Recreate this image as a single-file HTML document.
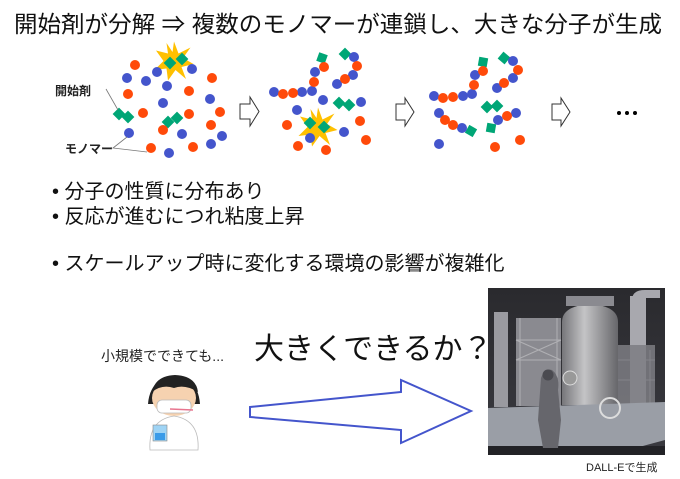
<!DOCTYPE html>
<html><head><meta charset="utf-8"><style>
html,body{margin:0;padding:0;background:#fff;width:680px;height:479px;overflow:hidden}
svg{display:block;font-family:"Liberation Sans","Noto Sans CJK JP",sans-serif}
</style></head><body>
<svg width="680" height="479" viewBox="0 0 680 479" xmlns="http://www.w3.org/2000/svg">
<defs>
<polygon id="star" points="0,-13 3,-5 11,-9 6,-2 13,2 5,4 8,12 1,6 -4,13 -5,5 -13,6 -7,0 -12,-7 -4,-5 -5,-12 -1,-6"/>
<rect id="gd" x="-4.5" y="-4.5" width="9" height="9" fill="#00a676"/>
</defs>
<text x="14" y="32" font-size="23" fill="#111" textLength="648" lengthAdjust="spacingAndGlyphs">開始剤が分解 ⇒ 複数のモノマーが連鎖し、大きな分子が生成</text>

<!-- Panel 1 -->
<use href="#star" transform="translate(174,61) scale(1.5)" fill="#ffc000"/>
<g>
<use href="#gd" transform="translate(170,63) rotate(45)"/><use href="#gd" transform="translate(182,59) rotate(45)"/>
<use href="#gd" transform="translate(119,114) rotate(45)"/><use href="#gd" transform="translate(128,117) rotate(45)"/>
<use href="#gd" transform="translate(168,122) rotate(45)"/><use href="#gd" transform="translate(177,118) rotate(45)"/>
</g>
<g fill="#4455cc">
<circle cx="127" cy="78" r="5"/><circle cx="146" cy="81" r="5"/><circle cx="157" cy="72" r="5"/><circle cx="192" cy="69" r="5"/>
<circle cx="167" cy="86" r="5"/><circle cx="210" cy="99" r="5"/><circle cx="163" cy="103" r="5"/><circle cx="129" cy="133" r="5"/>
<circle cx="182" cy="134" r="5"/><circle cx="222" cy="136" r="5"/><circle cx="211" cy="144" r="5"/><circle cx="169" cy="153" r="5"/>
</g>
<g fill="#ff4a0a">
<circle cx="135" cy="65" r="5"/><circle cx="212" cy="78" r="5"/><circle cx="128" cy="94" r="5"/><circle cx="189" cy="91" r="5"/>
<circle cx="143" cy="113" r="5"/><circle cx="189" cy="114" r="5"/><circle cx="220" cy="112" r="5"/><circle cx="211" cy="125" r="5"/>
<circle cx="163" cy="130" r="5"/><circle cx="193" cy="147" r="5"/><circle cx="151" cy="148" r="5"/>
</g>
<text x="55" y="95" font-size="12" font-weight="bold" fill="#222">開始剤</text>
<line x1="106" y1="89" x2="118" y2="110" stroke="#777" stroke-width="0.8"/>
<text x="65" y="153" font-size="12" font-weight="bold" fill="#222">モノマー</text>
<polyline points="127,137 113,148 147,152" fill="none" stroke="#777" stroke-width="0.8"/>

<g fill="#fff" stroke="#333" stroke-width="1">
<polygon points="240,104 250,104 250,97 259,111.5 250,126 250,119 240,119"/>
<polygon points="396,104 405,104 405,98 414,112 405,126 405,120 396,120"/>
<polygon points="552,104 561,104 561,98 570,112 561,126 561,120 552,120"/>
</g>

<!-- Panel 2 -->
<use href="#star" transform="translate(318,127) scale(1.5)" fill="#ffc000"/>
<g>
<use href="#gd" transform="translate(322,58) rotate(20)"/><use href="#gd" transform="translate(345,54) rotate(45)"/>
<use href="#gd" transform="translate(339,103) rotate(45)"/><use href="#gd" transform="translate(349,105) rotate(45)"/>
<use href="#gd" transform="translate(310,123) rotate(45)"/><use href="#gd" transform="translate(324,127) rotate(45)"/>
</g>
<g fill="#4455cc">
<circle cx="315" cy="72" r="5"/><circle cx="274" cy="92" r="5"/><circle cx="302" cy="92" r="5"/><circle cx="312" cy="91" r="5"/>
<circle cx="354" cy="57" r="5"/><circle cx="353" cy="75" r="5"/><circle cx="337" cy="84" r="5"/><circle cx="323" cy="100" r="5"/>
<circle cx="297" cy="110" r="5"/><circle cx="361" cy="102" r="5"/><circle cx="344" cy="132" r="5"/><circle cx="310" cy="138" r="5"/>
</g>
<g fill="#ff4a0a">
<circle cx="324" cy="67" r="5"/><circle cx="314" cy="82" r="5"/><circle cx="283" cy="94" r="5"/><circle cx="293" cy="93" r="5"/>
<circle cx="357" cy="66" r="5"/><circle cx="345" cy="79" r="5"/><circle cx="287" cy="125" r="5"/><circle cx="360" cy="121" r="5"/>
<circle cx="366" cy="140" r="5"/><circle cx="298" cy="146" r="5"/><circle cx="326" cy="150" r="5"/>
</g>

<!-- Panel 3 -->
<g>
<use href="#gd" transform="translate(483,62) rotate(10)"/><use href="#gd" transform="translate(504,58) rotate(40)"/>
<use href="#gd" transform="translate(487,107) rotate(45)"/><use href="#gd" transform="translate(497,106) rotate(45)"/>
<use href="#gd" transform="translate(471,131) rotate(30)"/><use href="#gd" transform="translate(491,128) rotate(10)"/>
</g>
<g fill="#4455cc">
<circle cx="475" cy="75" r="5"/><circle cx="434" cy="96" r="5"/><circle cx="463" cy="96" r="5"/><circle cx="472" cy="94" r="5"/>
<circle cx="513" cy="61" r="5"/><circle cx="513" cy="78" r="5"/><circle cx="497" cy="88" r="5"/><circle cx="439" cy="113" r="5"/>
<circle cx="462" cy="128" r="5"/><circle cx="498" cy="120" r="5"/><circle cx="516" cy="113" r="5"/><circle cx="439" cy="144" r="5"/>
</g>
<g fill="#ff4a0a">
<circle cx="483" cy="71" r="5"/><circle cx="474" cy="85" r="5"/><circle cx="443" cy="98" r="5"/><circle cx="453" cy="97" r="5"/>
<circle cx="518" cy="70" r="5"/><circle cx="504" cy="83" r="5"/><circle cx="445" cy="120" r="5"/><circle cx="453" cy="125" r="5"/>
<circle cx="507" cy="116" r="5"/><circle cx="495" cy="147" r="5"/><circle cx="520" cy="140" r="5"/>
</g>
<g fill="#000"><circle cx="619" cy="113" r="2"/><circle cx="627" cy="113" r="2"/><circle cx="635" cy="113" r="2"/></g>

<g font-size="20" fill="#111">
<text x="52" y="198">•  分子の性質に分布あり</text>
<text x="52" y="223">•  反応が進むにつれ粘度上昇</text>
<text x="52" y="270">•  スケールアップ時に変化する環境の影響が複雑化</text>
</g>

<text x="101" y="361" font-size="14" fill="#222">小規模でできても...</text>
<text x="254" y="359" font-size="30" fill="#111">大きくできるか？</text>

<polygon points="250,407 401,392 401,380 471,411 401,443 401,430 250,417" fill="#fff" stroke="#4455cc" stroke-width="2"/>

<!-- scientist -->
<g>
<path d="M148,404 Q150,378 175,376 Q198,378 200,404 Z" fill="#222"/>
<ellipse cx="174" cy="398" rx="22" ry="18" fill="#f6d2b0"/>
<path d="M152,392 Q155,376 175,375 Q196,376 198,392 Q185,384 174,388 Q162,384 152,392Z" fill="#222"/>
<rect x="157" y="400" width="34" height="13" rx="5" fill="#fff" stroke="#bbb" stroke-width="0.8"/>
<path d="M150,450 Q148,420 174,416 Q200,420 198,450 Z" fill="#fff" stroke="#bbb" stroke-width="0.8"/>
<line x1="170" y1="409" x2="193" y2="410" stroke="#e8758f" stroke-width="1.5"/>
<rect x="153" y="425" width="14" height="16" fill="#9fd4f5" stroke="#888" stroke-width="0.6"/>
<rect x="155" y="433" width="10" height="7" fill="#3a9be8"/>
</g>

<!-- factory -->
<defs>
<linearGradient id="bg" x1="0" y1="0" x2="0" y2="1"><stop offset="0" stop-color="#2a2a2e"/><stop offset="1" stop-color="#3a3a40"/></linearGradient>
<linearGradient id="tank" x1="0" y1="0" x2="1" y2="0"><stop offset="0" stop-color="#76767a"/><stop offset="0.4" stop-color="#c4c4c6"/><stop offset="1" stop-color="#66666a"/></linearGradient>
</defs>
<rect x="488" y="288" width="177" height="167" fill="url(#bg)"/>
<rect x="494" y="312" width="14" height="95" fill="#9a9aa0"/>
<rect x="516" y="318" width="45" height="88" fill="#8a8a90"/>
<g stroke="#b0b0b4" stroke-width="1" fill="none">
<path d="M516,340 H561 M516,360 H561 M516,340 L561,360 M561,340 L516,360 M520,318 V406 M557,318 V406"/>
<path d="M605,360 H655 M605,380 H655 M610,350 V410 M650,350 V410"/>
</g>
<rect x="630" y="296" width="16" height="115" fill="#a8a8ae"/>
<path d="M632,300 Q632,290 645,290 L660,290 L660,298 L645,298 Z" fill="#a8a8ae"/>
<rect x="605" y="345" width="50" height="60" fill="#7c7c82" opacity="0.85"/>
<path d="M562,322 Q562,306 590,304 Q618,306 618,322 L618,405 L562,405 Z" fill="url(#tank)"/>
<rect x="566" y="296" width="48" height="10" fill="#8a8a90"/>
<circle cx="570" cy="378" r="7" fill="#999" stroke="#ddd"/>
<path d="M488,408 L665,402 L665,440 L610,455 L488,455 Z" fill="#9a9ea6"/>
<rect x="488" y="446" width="177" height="9" fill="#222226"/>
<circle cx="610" cy="408" r="10" fill="none" stroke="#ddd" stroke-width="2"/>
<path d="M541,378 Q545,368 552,370 Q560,376 558,390 L561,420 L558,448 L543,448 L538,420 Z" fill="#66666c"/>
<circle cx="548" cy="375" r="5.5" fill="#4a4a50"/>
<text x="586" y="471" font-size="11" fill="#222">DALL-Eで生成</text>
</svg>
</body></html>
